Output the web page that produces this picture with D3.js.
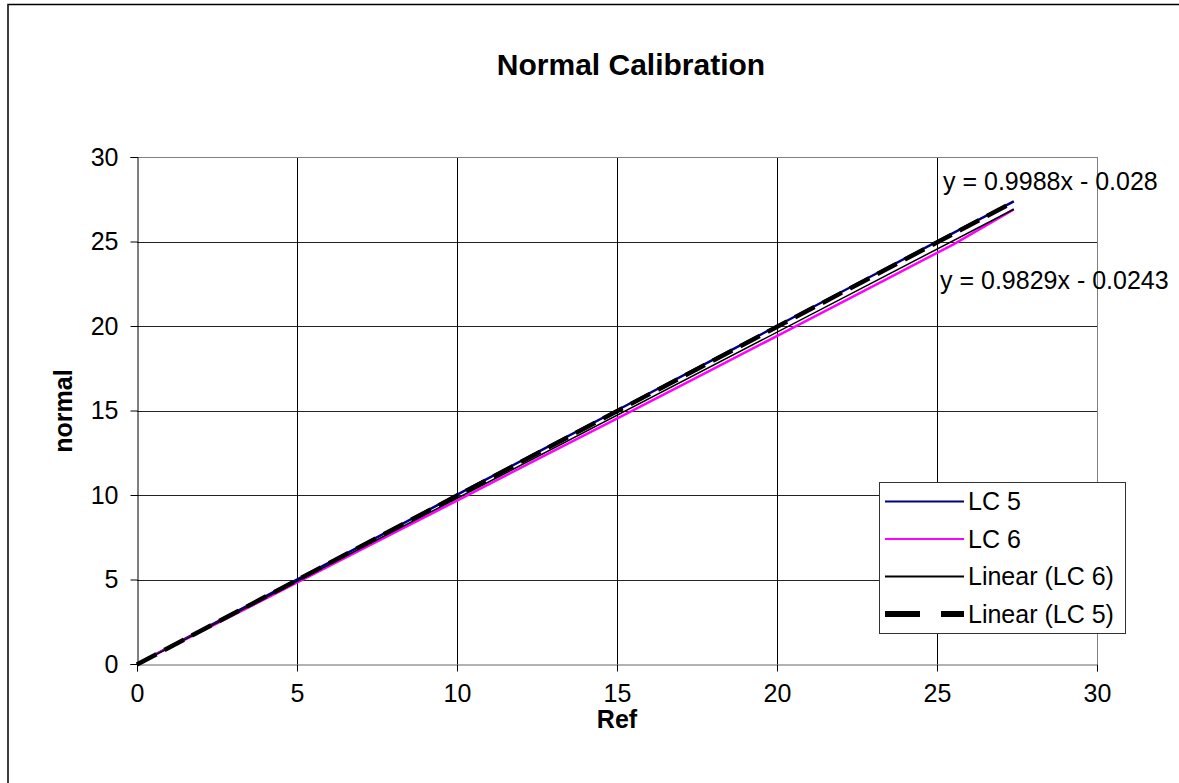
<!DOCTYPE html>
<html>
<head>
<meta charset="utf-8">
<script src="https://cdn.jsdelivr.net/npm/d3@7"></script>
<style>
  body { margin: 0; background: #fff; }
  text { font-family: "Liberation Sans", Arial, sans-serif; fill: #000; }
</style>
</head>
<body>
<div class="viz"></div>
<script>
// data
var refValues = [0, 2.5, 5.1, 7.6, 10.2, 12.7, 15.3, 17.8, 20.4, 22.9, 25.5, 27.4]
var lc5Values = [0.0, 2.49, 5.10, 7.60, 10.21, 12.71, 15.31, 17.80, 20.40, 22.90, 25.49, 27.38]
var lc6Values = [0.0, 2.40, 4.92, 7.34, 9.86, 12.30, 14.82, 17.26, 19.80, 22.26, 24.82, 26.90]

// trendline coefficients as printed on the chart [slope, intercept]
var trendLC5 = [0.9988, -0.028]
var trendLC6 = [0.9829, -0.0243]

var tickValues = [0, 5, 10, 15, 20, 25, 30]
var legendLabels = ["LC 5", "LC 6", "Linear (LC 6)", "Linear (LC 5)"]

var W = 1179, H = 783
var plot = {left: 137, right: 1097, top: 157, bottom: 664}

var svg = d3.select(".viz")
  .append("svg")
    .attr("width", W)
    .attr("height", H)

// outer chart border (runs off the right/bottom edge)
svg.append("rect")
  .attr("x", 8).attr("y", 4.5)
  .attr("width", W).attr("height", H)
  .attr("fill", "#fff")
  .attr("stroke", "#000")
  .attr("stroke-width", 1.5)

var x = d3.scaleLinear().domain([0, 30]).range([plot.left, plot.right])
var y = d3.scaleLinear().domain([0, 30]).range([plot.bottom, plot.top])

// gridlines
svg.append("g")
  .selectAll("line.vgrid")
  .data(tickValues.slice(1))
  .join("line")
    .attr("x1", d => Math.round(x(d)) + 0.5).attr("x2", d => Math.round(x(d)) + 0.5)
    .attr("y1", plot.top).attr("y2", plot.bottom)
    .attr("stroke", d => d == 30 ? "#808080" : "#000")
    .attr("stroke-width", 1)

svg.append("g")
  .selectAll("line.hgrid")
  .data(tickValues.slice(1))
  .join("line")
    .attr("x1", plot.left).attr("x2", plot.right)
    .attr("y1", d => Math.round(y(d)) + 0.5).attr("y2", d => Math.round(y(d)) + 0.5)
    .attr("stroke", d => d == 30 ? "#808080" : "#222")
    .attr("stroke-width", 1)

// axes
var xAxis = svg.append("g")
  .attr("transform", "translate(0," + (Math.round(plot.bottom) + 0.5) + ")")
  .call(d3.axisBottom(x).tickValues(tickValues).tickSize(7).tickPadding(13))
var yAxis = svg.append("g")
  .attr("transform", "translate(" + (plot.left + 0.5) + ",0)")
  .call(d3.axisLeft(y).tickValues(tickValues).tickSize(7).tickPadding(12))

;[xAxis, yAxis].forEach(function(g) {
  g.select(".domain").attr("stroke", "#000").attr("stroke-width", 1)
  g.selectAll(".tick line").attr("stroke", "#000")
  g.selectAll("text")
    .style("font-family", "'Liberation Sans', Arial, sans-serif")
    .style("font-size", "25px")
    .attr("fill", "#000")
})
xAxis.select(".domain").attr("stroke", "#666")

// series
var line = d3.line()
  .x(function(d) { return x(d[0]) })
  .y(function(d) { return y(d[1]) })

var lc5 = refValues.map((r, i) => [r, lc5Values[i]])
var lc6 = refValues.map((r, i) => [r, lc6Values[i]])
var xMin = d3.min(refValues), xMax = d3.max(refValues)
var fit5 = [xMin, xMax].map(v => [v, trendLC5[0] * v + trendLC5[1]])
var fit6 = [xMin, xMax].map(v => [v, trendLC6[0] * v + trendLC6[1]])

svg.append("path").datum(lc5)
  .attr("fill", "none").attr("stroke", "#000080").attr("stroke-width", 2.5)
  .attr("d", line)
svg.append("path").datum(lc6)
  .attr("fill", "none").attr("stroke", "#ff00ff").attr("stroke-width", 2.5)
  .attr("d", line)
svg.append("path").datum(fit6)
  .attr("fill", "none").attr("stroke", "#000").attr("stroke-width", 1.5)
  .attr("d", line)
svg.append("path").datum(fit5)
  .attr("fill", "none").attr("stroke", "#000").attr("stroke-width", 4.5)
  .attr("stroke-dasharray", "22,9")
  .attr("d", line)

// trendline equations
svg.append("text")
  .attr("x", 943).attr("y", 190)
  .style("font-size", "25px")
  .text("y = " + trendLC5[0] + "x - " + Math.abs(trendLC5[1]))
svg.append("text")
  .attr("x", 940).attr("y", 289)
  .style("font-size", "25px")
  .text("y = " + trendLC6[0] + "x - " + Math.abs(trendLC6[1]))

// titles
svg.append("text")
  .attr("x", 631).attr("y", 75)
  .attr("text-anchor", "middle")
  .style("font-size", "30px").style("font-weight", "bold")
  .text("Normal Calibration")
svg.append("text")
  .attr("x", 617).attr("y", 728)
  .attr("text-anchor", "middle")
  .style("font-size", "25px").style("font-weight", "bold")
  .text("Ref")
svg.append("text")
  .attr("transform", "translate(72,411) rotate(-90)")
  .attr("text-anchor", "middle")
  .style("font-size", "25px").style("font-weight", "bold")
  .text("normal")

// legend
var legend = svg.append("g")
legend.append("rect")
  .attr("x", 879.5).attr("y", 482.5)
  .attr("width", 246).attr("height", 151)
  .attr("fill", "#fff").attr("stroke", "#333").attr("stroke-width", 1)

var legendStyles = [
  {color: "#000080", width: 2, dash: null},
  {color: "#ff00ff", width: 2, dash: null},
  {color: "#000", width: 2, dash: null},
  {color: "#000", width: 6, dash: "35,21"}
]
legendLabels.forEach(function(lab, i) {
  var cy = 501.5 + i * 37.5
  var s = legendStyles[i]
  legend.append("line")
    .attr("x1", 885).attr("x2", 964)
    .attr("y1", cy).attr("y2", cy)
    .attr("stroke", s.color).attr("stroke-width", s.width)
    .attr("stroke-dasharray", s.dash)
  legend.append("text")
    .attr("x", 968).attr("y", cy + 8.5)
    .style("font-size", "25px")
    .text(lab)
})
</script>
</body>
</html>
